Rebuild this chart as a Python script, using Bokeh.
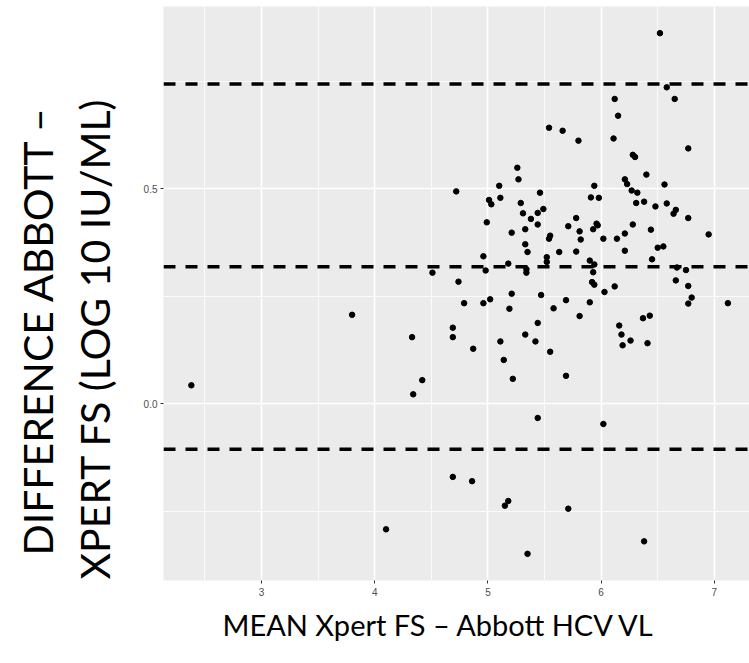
from bokeh.plotting import figure
from bokeh.models import Span, Title, FixedTicker, Range1d, NumeralTickFormatter
from bokeh.embed import file_html
from bokeh.resources import INLINE

# Mean of the two methods (log10 IU/mL)
mean_vl = [2.38, 3.80, 4.33, 4.42, 4.34, 4.10, 4.51, 6.52, 6.58, 6.12,
           6.65, 6.15, 5.54, 5.66, 5.80, 6.11, 6.77, 6.28, 6.30, 5.26,
           5.27, 6.21, 6.23, 6.40, 5.10, 5.94, 6.56, 4.72, 5.01, 5.03,
           5.11, 5.46, 5.29, 5.91, 5.98, 6.27, 6.32, 6.31, 6.38, 6.48,
           6.58, 5.31, 5.44, 5.49, 6.66, 6.64, 5.38, 4.99, 5.78, 6.77,
           5.33, 5.44, 5.71, 5.81, 5.93, 5.96, 5.97, 6.44, 5.21, 5.55,
           5.54, 5.82, 6.02, 6.14, 6.21, 6.28, 6.95, 5.33, 5.35, 5.63,
           5.78, 6.21, 6.50, 6.55, 4.96, 5.52, 5.52, 5.90, 6.45, 5.18,
           4.98, 5.34, 5.34, 5.94, 5.93, 6.67, 6.75, 4.74, 5.92, 5.94,
           6.66, 6.77, 5.21, 5.47, 6.03, 6.12, 5.02, 6.80, 5.69, 5.90,
           4.79, 4.96, 5.19, 5.58, 5.81, 4.69, 4.69, 4.87, 5.11, 5.14,
           5.22, 5.33, 5.42, 5.44, 5.55, 5.69, 6.16, 6.18, 6.19, 6.26,
           6.37, 6.43, 6.41, 6.77, 7.12, 5.44, 6.02, 4.69, 4.86, 5.15,
           5.18, 5.71, 5.35, 6.38]

# Difference Abbott - Xpert FS (log10 IU/mL)
diff_vl = [0.043, 0.207, 0.155, 0.055, 0.022, -0.292, 0.305, 0.862, 0.736, 0.709,
           0.709, 0.670, 0.642, 0.635, 0.612, 0.617, 0.594, 0.579, 0.574, 0.549,
           0.522, 0.522, 0.511, 0.533, 0.507, 0.507, 0.510, 0.494, 0.474, 0.464,
           0.479, 0.491, 0.467, 0.480, 0.479, 0.496, 0.491, 0.467, 0.470, 0.459,
           0.466, 0.443, 0.444, 0.453, 0.451, 0.442, 0.430, 0.422, 0.432, 0.432,
           0.406, 0.417, 0.413, 0.401, 0.406, 0.419, 0.415, 0.405, 0.398, 0.391,
           0.384, 0.382, 0.384, 0.384, 0.396, 0.417, 0.394, 0.371, 0.353, 0.353,
           0.354, 0.356, 0.363, 0.366, 0.343, 0.341, 0.330, 0.333, 0.336, 0.326,
           0.310, 0.313, 0.305, 0.324, 0.306, 0.317, 0.311, 0.284, 0.283, 0.277,
           0.287, 0.274, 0.256, 0.253, 0.260, 0.273, 0.243, 0.247, 0.241, 0.236,
           0.234, 0.234, 0.221, 0.222, 0.204, 0.177, 0.155, 0.128, 0.145, 0.102,
           0.058, 0.161, 0.145, 0.188, 0.121, 0.065, 0.182, 0.161, 0.136, 0.147,
           0.199, 0.205, 0.141, 0.233, 0.234, -0.033, -0.047, -0.170, -0.180, -0.237,
           -0.226, -0.244, -0.349, -0.320]

bias = 0.319
upper_loa = 0.744
lower_loa = -0.106

x_ticks = [3, 4, 5, 6, 7]
x_minor = [2.5, 3.5, 4.5, 5.5, 6.5, 7.5]
y_ticks = [0.0, 0.5]
y_minor = [-0.25, 0.25, 0.75]

x_title = "MEAN Xpert FS \u2013 Abbott HCV VL"
y_title_1 = "DIFFERENCE ABBOTT \u2013"
y_title_2 = "XPERT FS (LOG 10 IU/ML)"

p = figure(width=749, height=663, output_backend="svg", toolbar_location=None,
           x_range=Range1d(2.134, 7.311), y_range=Range1d(-0.411, 0.924),
           min_border_left=163, min_border_right=0, min_border_top=6,
           min_border_bottom=83)
p.background_fill_color = "#EBEBEB"
p.border_fill_color = "white"
p.outline_line_color = None

p.xaxis.ticker = FixedTicker(ticks=x_ticks, minor_ticks=x_minor)
p.yaxis.ticker = FixedTicker(ticks=y_ticks, minor_ticks=y_minor)
p.yaxis.formatter = NumeralTickFormatter(format="0.0")
for ax in (p.xaxis, p.yaxis):
    ax.axis_line_color = None
    ax.major_tick_in = 0
    ax.major_tick_out = 3
    ax.major_tick_line_color = "#333333"
    ax.major_tick_line_width = 1
    ax.minor_tick_line_color = None
    ax.major_label_text_color = "#4D4D4D"
    ax.major_label_text_font = "Liberation Sans"
    ax.major_label_text_font_size = "10px"
p.xaxis.major_label_standoff = 3
p.yaxis.major_label_standoff = 2
# blank spacer label to push the two-line title outward
p.yaxis.axis_label = "\u00a0"
p.yaxis.axis_label_text_font_size = "10px"
p.yaxis.axis_label_standoff = 5

for g in (p.xgrid, p.ygrid):
    g.grid_line_color = "white"
    g.grid_line_width = 1.6
    g.minor_grid_line_color = "white"
    g.minor_grid_line_width = 0.8

for loc in (upper_loa, bias, lower_loa):
    p.add_layout(Span(location=loc, dimension="width", line_color="black",
                      line_width=3.5, line_dash="12 10"))

p.scatter(mean_vl, diff_vl, size=5.5, color="black")

t2 = Title(text=y_title_2, align="left", offset=1, standoff=6,
           text_font="Lato", text_font_size="41px", text_font_style="normal",
           text_color="black")
t1 = Title(text=y_title_1, align="left", offset=25, standoff=6,
           text_font="Lato", text_font_size="41px", text_font_style="normal",
           text_color="black")
p.add_layout(t2, "left")
p.add_layout(t1, "left")

tx = Title(text=x_title, align="left", offset=59, standoff=12,
           text_font="Lato", text_font_size="29px", text_font_style="normal",
           text_color="black")
p.add_layout(tx, "below")

open("out.html", "w").write(file_html(p, INLINE))
